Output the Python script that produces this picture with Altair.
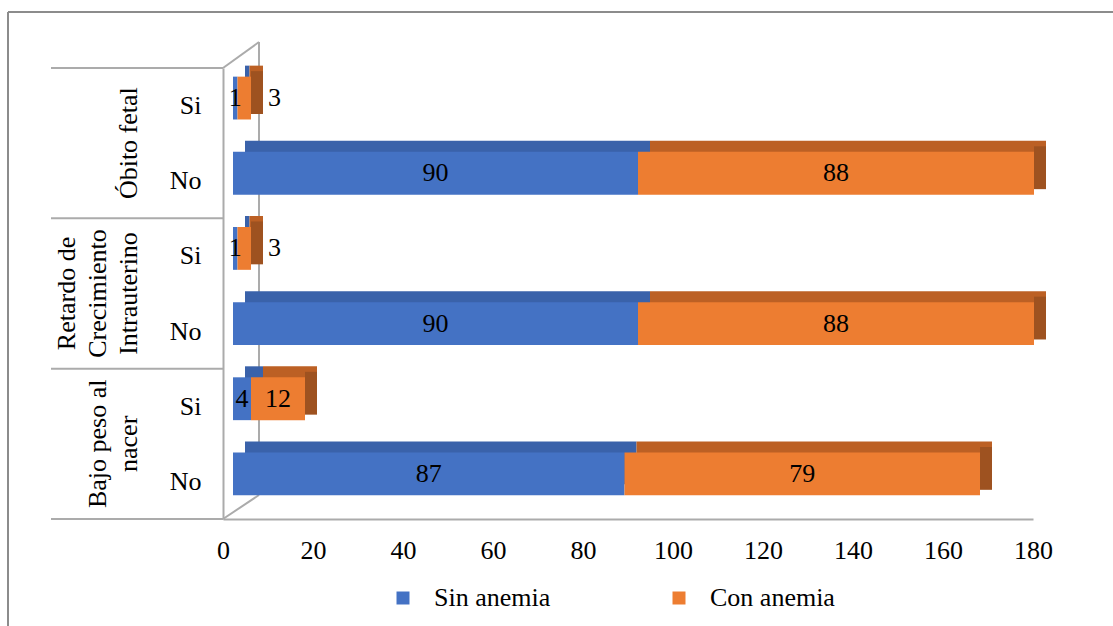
import json
import altair as alt
import pandas as pd

# ---------------- data ----------------
groups = ["Óbito fetal", "Retardo de\nCrecimiento\nIntrauterino", "Bajo peso al\nnacer"]
answers = ["Si", "No"]
series = ["Sin anemia", "Con anemia"]
sin_anemia = [1, 90, 1, 90, 4, 87]   # rows: OF Si, OF No, RCIU Si, RCIU No, BP Si, BP No
con_anemia = [3, 88, 3, 88, 12, 79]
x_ticks = [0, 20, 40, 60, 80, 100, 120, 140, 160, 180]

# ---------------- styles ----------------
FONT = "Liberation Serif"
FS = 26
front_colors = ["#4472C4", "#ED7D31"]
top_colors = ["#3A62AA", "#BC6024"]
side_colors = ["#2F5290", "#9E5220"]
GRAY = "#ABABAB"
DX, DY = 12, -11      # 3D depth offset of the bars
SHIFT = 10            # bars sit a little behind the floor edge
LINE_H = 31

# ---------------- tables ----------------
row_answers = []
for g in groups:
    for a in answers:
        row_answers.append(a)

rows = []
for i in range(len(sin_anemia)):
    vals = [sin_anemia[i], con_anemia[i]]
    start = 0
    for s, v in zip(series, vals):
        rows.append(dict(pos=i, series=s, value=v, start=start, end=start + v,
                         mid=start + v / 2.0,
                         top=i - 0.385, bot=i + 0.185, ly=i - 0.1,
                         outside=(s == series[-1] and v <= 3)))
        start += v
bars = pd.DataFrame(rows)
last = bars[bars["series"] == series[-1]]

glines = []
for gi, g in enumerate(groups):
    parts = g.split("\n")
    n = len(parts)
    for j, p in enumerate(parts):
        glines.append(dict(label=p, pos=2 * gi + 0.5, lx=-81 - (n - 1 - j) * LINE_H))
group_df = pd.DataFrame(glines)
sep_df = pd.DataFrame({"b": [-0.5, 1.5, 3.5, 5.5]})

xscale = alt.Scale(domain=[0, 180], nice=False, zero=True)
yscale = alt.Scale(domain=[-0.5, 5.5], reverse=True, nice=False, zero=False)

xaxis = alt.Axis(values=x_ticks, title=None, grid=False, ticks=False, labelFlush=False,
                 labelFont=FONT, labelFontSize=FS, labelColor="black",
                 labelPadding=18, domainColor=GRAY, domainWidth=2)
yaxis = alt.Axis(values=list(range(len(row_answers))), title=None, grid=False, ticks=False,
                 labelExpr=json.dumps(row_answers) + "[datum.value]",
                 labelFont=FONT, labelFontSize=FS, labelColor="black",
                 labelPadding=22, labelAlign="right", labelBaseline="middle",
                 domainColor=GRAY, domainWidth=2)

base = alt.Chart(bars)
one = sep_df.head(1)

# outer frame
frame_top = alt.Chart(one).mark_rule(color="#8C8C8C", strokeWidth=2).encode(
    x=alt.value(-215), x2=alt.value(900), y=alt.value(-56))
frame_left = alt.Chart(one).mark_rule(color="#8C8C8C", strokeWidth=2).encode(
    x=alt.value(-215), y=alt.value(-56), y2=alt.value(570))

# group separators on the left
seps = alt.Chart(sep_df).mark_rule(color=GRAY, strokeWidth=2).encode(
    y=alt.Y("b:Q", scale=yscale, axis=yaxis), x=alt.value(-172), x2=alt.value(0))

# 3D back wall
wall_v = alt.Chart(one).mark_rule(color=GRAY, strokeWidth=2, xOffset=36,
                                  yOffset=-26, y2Offset=-24).encode(
    x=alt.XDatum(0, scale=xscale, axis=xaxis),
    y=alt.YDatum(-0.5, scale=yscale, axis=yaxis), y2=alt.Y2Datum(5.5))
wall_top = alt.Chart(one).mark_rule(color=GRAY, strokeWidth=2, x2Offset=36,
                                    y2Offset=-26).encode(
    x=alt.XDatum(0, scale=xscale, axis=xaxis), x2=alt.X2Datum(0),
    y=alt.YDatum(-0.5, scale=yscale, axis=yaxis), y2=alt.Y2Datum(-0.5))
wall_bot = alt.Chart(one).mark_rule(color=GRAY, strokeWidth=2, x2Offset=36,
                                    y2Offset=-24).encode(
    x=alt.XDatum(0, scale=xscale, axis=xaxis), x2=alt.X2Datum(0),
    y=alt.YDatum(5.5, scale=yscale, axis=yaxis), y2=alt.Y2Datum(5.5))

def enc_rect():
    return dict(x=alt.X("start:Q", scale=xscale, axis=xaxis), x2="end:Q",
                y=alt.Y("top:Q", scale=yscale, axis=yaxis), y2="bot:Q")

# top faces (offset rectangles)
tops = []
for s, c in zip(series, top_colors):
    tops.append(base.transform_filter(alt.datum.series == s).mark_bar(
        color=c, xOffset=SHIFT + DX, x2Offset=SHIFT + DX, yOffset=DY, y2Offset=DY).encode(**enc_rect()))

# right side face of the last segment
side = alt.Chart(last).mark_bar(color=side_colors[-1], xOffset=SHIFT, x2Offset=SHIFT + DX,
                                yOffset=DY / 2, y2Offset=DY / 2).encode(
    x=alt.X("end:Q", scale=xscale, axis=xaxis), x2="end:Q",
    y=alt.Y("top:Q", scale=yscale, axis=yaxis), y2="bot:Q")

# front faces
fronts = base.mark_bar(xOffset=SHIFT, x2Offset=SHIFT).encode(
    x=alt.X("start:Q", scale=xscale, axis=xaxis), x2="end:Q",
    y=alt.Y("top:Q", scale=yscale, axis=yaxis), y2="bot:Q",
    color=alt.Color("series:N", scale=alt.Scale(domain=series, range=front_colors),
                    legend=alt.Legend(title=None, orient="none", direction="horizontal",
                                      legendX=167, legendY=517, symbolType="square",
                                      symbolSize=169, symbolStrokeWidth=0,
                                      labelFont=FONT, labelFontSize=FS, labelColor="black",
                                      labelOffset=18, columnPadding=115, padding=0)),
    order=alt.Order("pos:Q"))

# value labels
lab_in = base.transform_filter(alt.datum.outside == False).mark_text(
    font=FONT, fontSize=FS, color="black", dx=SHIFT, baseline="middle").encode(
    x=alt.X("mid:Q", scale=xscale, axis=xaxis),
    y=alt.Y("ly:Q", scale=yscale, axis=yaxis), text="value:Q")
lab_out = base.transform_filter(alt.datum.outside == True).mark_text(
    font=FONT, fontSize=FS, color="black", dx=SHIFT + 17, align="left", baseline="middle").encode(
    x=alt.X("end:Q", scale=xscale, axis=xaxis),
    y=alt.Y("ly:Q", scale=yscale, axis=yaxis), text="value:Q")

# group labels (rotated, one text per line)
glabels = alt.Chart(group_df).mark_text(font=FONT, fontSize=FS, color="black", angle=270,
                                        align="center", baseline="bottom").encode(
    x=alt.X("lx:Q", scale=None), y=alt.Y("pos:Q", scale=yscale, axis=yaxis), text="label:N")

chart = alt.layer(frame_top, frame_left, seps, wall_v, wall_top, wall_bot,
                  *tops, side, fronts, lab_in, lab_out, glabels).properties(
    width=810, height=451,
    autosize=alt.AutoSizeParams(type="none"),
    padding={"left": 223, "top": 68, "right": 80, "bottom": 107},
    background="white",
).configure(font=FONT).configure_view(stroke="transparent", strokeWidth=0)

chart.save("out.html", embed_options={"renderer": "svg", "actions": False})
